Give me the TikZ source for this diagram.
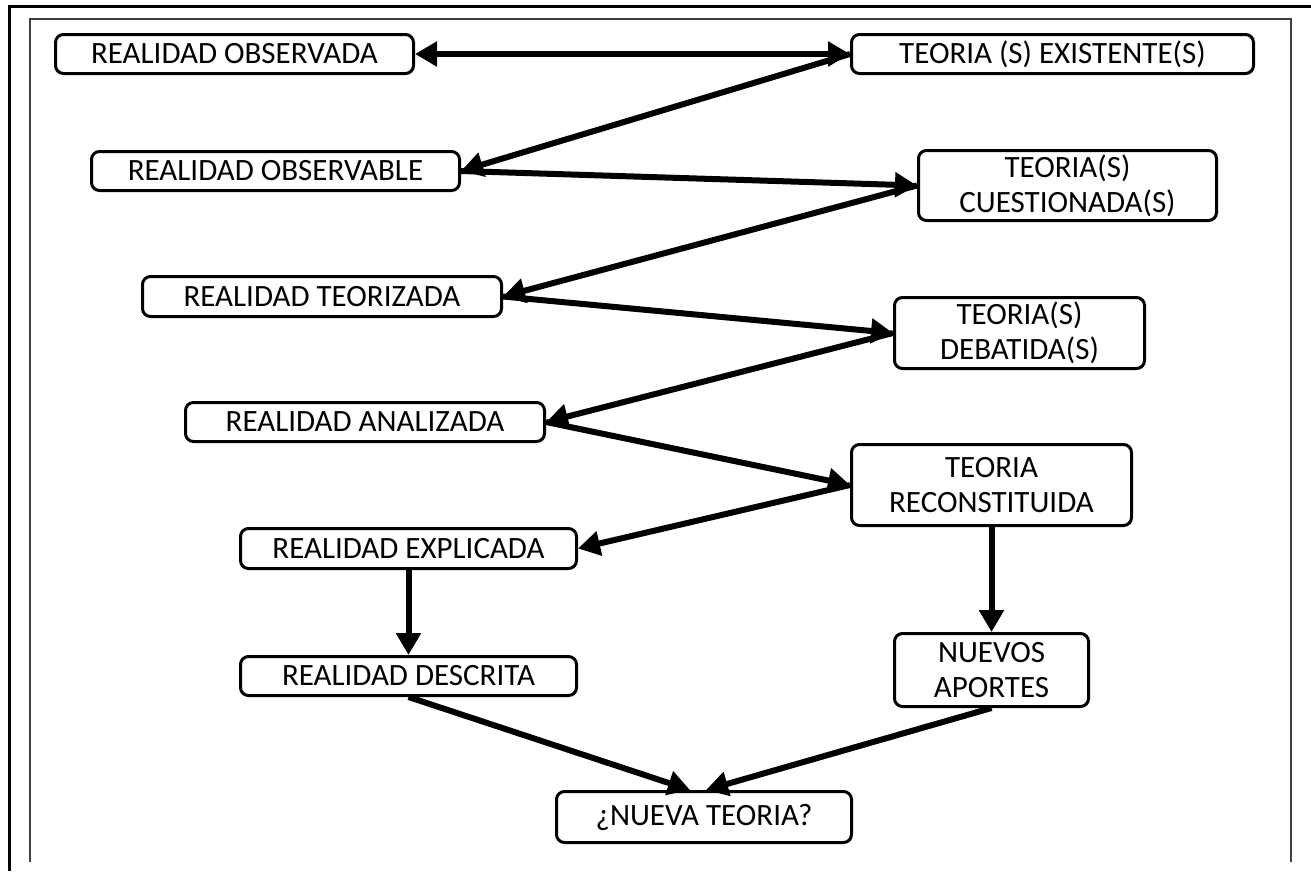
\documentclass[tikz,border=0pt]{standalone}
\usepackage{fontspec}
\setmainfont{Carlito}
\usetikzlibrary{arrows.meta,calc}
\begin{document}
\begin{tikzpicture}[x=1pt,y=-1pt,
  box/.style={draw, line width=3pt, rounded corners=8pt, align=center, inner sep=0pt,
    font=\fontsize{31}{35}\selectfont, text=black},
  tip/.tip={Triangle[length=22pt,width=24pt]},
  conn/.style={line width=6pt, -tip},
  dconn/.style={line width=6pt, tip-tip},
]
\useasboundingbox (0,0) rectangle (1311,871);
% frames
\draw[line width=3pt] (9,871) -- (9,6) -- (1311,6);
\draw[line width=2pt, black!75] (30,862) -- (30,19) -- (1291,19) -- (1291,862);

% left column
\node[box, minimum width=358pt, minimum height=39pt] (observada) at (234.5,54) {REALIDAD OBSERVADA};
\node[box, minimum width=368pt, minimum height=39pt] (observable) at (275.5,171) {REALIDAD OBSERVABLE};
\node[box, minimum width=359pt, minimum height=40pt] (teorizada) at (322,296.5) {REALIDAD TEORIZADA};
\node[box, minimum width=359pt, minimum height=39pt] (analizada) at (365,422) {REALIDAD ANALIZADA};
\node[box, minimum width=336pt, minimum height=40pt] (explicada) at (408.5,548.5) {REALIDAD EXPLICADA};
\node[box, minimum width=336pt, minimum height=39pt] (descrita) at (408.5,676) {REALIDAD DESCRITA};

% right column
\node[box, minimum width=402pt, minimum height=39pt] (existente) at (1052.5,54) {TEORIA (S) EXISTENTE(S)};
\node[box, minimum width=298pt, minimum height=70pt] (cuestionada) at (1067.5,185.5) {TEORIA(S)\\CUESTIONADA(S)};
\node[box, minimum width=250pt, minimum height=71pt] (debatida) at (1019.5,333) {TEORIA(S)\\DEBATIDA(S)};
\node[box, minimum width=280pt, minimum height=81pt] (reconstituida) at (991.5,485) {TEORIA\\RECONSTITUIDA};
\node[box, minimum width=194pt, minimum height=73pt] (nuevos) at (991.5,670) {NUEVOS\\APORTES};

% bottom
\node[box, minimum width=295pt, minimum height=51pt] (nueva) at (704,817) {¿NUEVA TEORIA?};

% connectors
\draw[dconn] (observada.east) -- (existente.west);
\draw[conn] (existente.west) -- (observable.east);
\draw[conn] (observable.east) -- (cuestionada.west);
\draw[conn] (cuestionada.west) -- (teorizada.east);
\draw[conn] (teorizada.east) -- (debatida.west);
\draw[conn] (debatida.west) -- (analizada.east);
\draw[conn] (analizada.east) -- (reconstituida.west);
\draw[conn] (reconstituida.west) -- (explicada.east);
\draw[conn] (explicada.south) -- (descrita.north);
\draw[conn] (reconstituida.south) -- (nuevos.north);
\draw[conn] (descrita.south) -- ($(nueva.north)+(-14,0)$);
\draw[conn] (nuevos.south) -- ($(nueva.north)+(2,0)$);
\end{tikzpicture}
\end{document}
